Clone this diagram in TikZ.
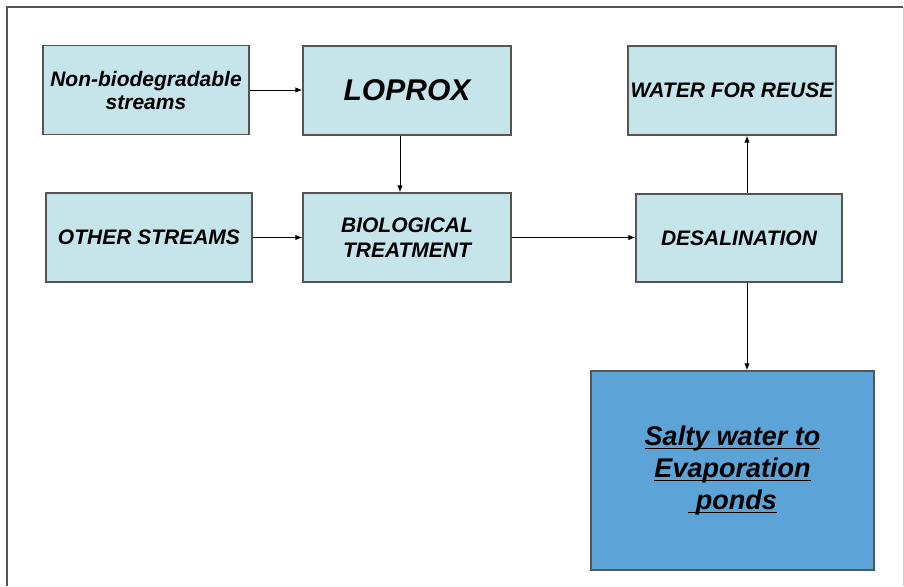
\documentclass[tikz,border=0pt]{standalone}
\usepackage{fontspec}
\setmainfont{Liberation Sans}
\usetikzlibrary{arrows.meta}
\definecolor{boxfill}{RGB}{198,229,235}
\definecolor{saltfill}{RGB}{92,164,216}
\definecolor{boxline}{RGB}{85,85,85}
\newcommand\myul[1]{\setbox0\hbox{#1}\rlap{\rule[-4pt]{\wd0}{1.7pt}}\box0}
\tikzset{
  procbox/.style={draw=boxline, line width=1.4pt, fill=boxfill, rectangle,
    minimum width=206pt, minimum height=89pt, inner sep=0pt, align=center,
    font=\fontsize{21}{23}\selectfont\bfseries\itshape},
  arr/.style={draw=black, line width=0.9pt, -{Latex[length=7pt,width=5.5pt]}},
}
\begin{document}
\begin{tikzpicture}[x=1pt,y=-1pt]
\useasboundingbox (0,0) rectangle (904,586);
\fill[white] (0,0) rectangle (904,586);
\draw[boxline, line width=1.5pt] (7,586) -- (7,7) -- (903,7);
\draw[gray!40, line width=1pt] (903,7) -- (903,586);

\node[procbox] (nonbio) at (146,90) {Non-biodegradable\\streams};
\node[procbox, minimum width=208pt, font=\fontsize{30}{34}\selectfont\bfseries\itshape] (loprox) at (407,90.5) {LOPROX};
\node[procbox] (other) at (149,237.5) {OTHER STREAMS};
\node[procbox, minimum width=208pt, font=\fontsize{21}{25}\selectfont\bfseries\itshape] (bio) at (407,237.5) {BIOLOGICAL\\TREATMENT};
\node[procbox, minimum width=208pt] (water) at (732,90.5) {WATER FOR REUSE};
\node[procbox, minimum height=88pt] (desal) at (739,238) {DESALINATION};
\node[procbox, fill=saltfill, minimum width=283pt, minimum height=199pt,
  font=\fontsize{27}{32}\selectfont\bfseries\itshape] (salty) at (732.5,470.5)
  {\myul{Salty water to}\\\myul{Evaporation}\\\myul{\ ponds}};

\draw[arr] (nonbio.east) -- (nonbio.east -| loprox.west);
\draw[arr] ([xshift=-7pt]loprox.south) -- ([xshift=-7pt]bio.north);
\draw[arr] (other.east) -- (other.east -| bio.west);
\draw[arr] (bio.east) -- (bio.east -| desal.west);
\draw[arr] ([xshift=8pt]desal.north) -- ([xshift=8pt]desal.north |- water.south);
\draw[arr] ([xshift=8pt]desal.south) -- ([xshift=8pt]desal.south |- salty.north);
\end{tikzpicture}
\end{document}
